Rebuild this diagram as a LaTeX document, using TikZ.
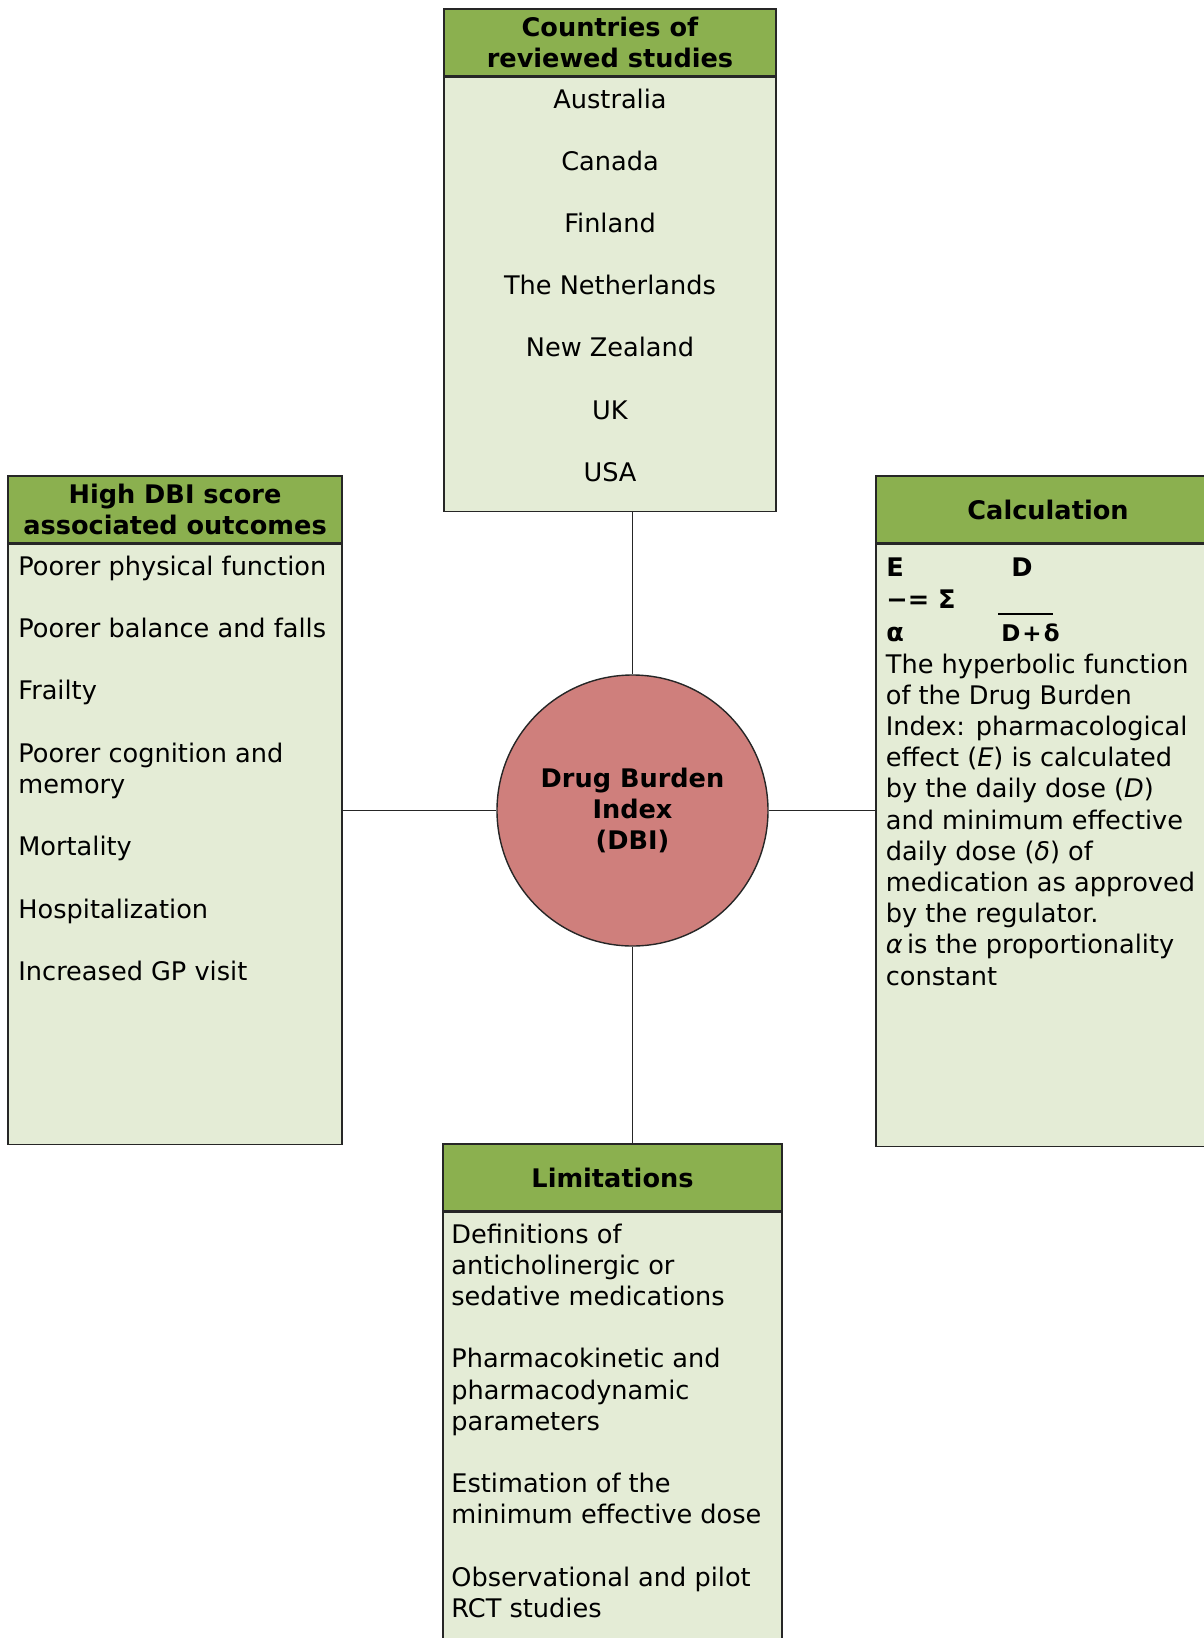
\documentclass[tikz,border=0pt]{standalone}
\usepackage{fontspec}
\setmainfont{DejaVu Sans}
\usetikzlibrary{positioning}
\newcommand{\dbifont}{\fontsize{12.8pt}{15.6pt}\selectfont}

\begin{document}
\begin{tikzpicture}[x=0.5pt,y=-0.5pt,
  head/.style={draw=black!85, line width=0.7pt, fill=hgreen, align=center, font=\dbifont\bfseries, inner sep=0pt, minimum height=33.5pt},
  body/.style={draw=black!85, line width=0.7pt, fill=bgreen, inner sep=0pt},
  item/.style={anchor=base west, align=left, inner sep=0pt, font=\dbifont},
  citem/.style={anchor=base, inner sep=0pt, font=\dbifont},
  fml/.style={anchor=base west, inner sep=0pt, font=\dbifont\bfseries},
  link/.style={draw=black!85, line width=0.7pt}]

% colours of the original figure
\definecolor{hgreen}{HTML}{8BB04F}
\definecolor{bgreen}{HTML}{E4ECD6}
\definecolor{dbired}{HTML}{CF7F7C}

\useasboundingbox (0,0) rectangle (1204,1638);
\clip (0,0) rectangle (1204,1638);

%% centre
\node [circle, draw=black!85, line width=0.7pt, fill=dbired, minimum size=135.5pt, inner sep=0pt, align=center, font=\dbifont\bfseries] (dbi) at (632.5,810.5) {Drug Burden\\Index\\(DBI)};

%% countries of reviewed studies
\node [head, minimum width=166pt] (countHead) at (610,42.5) {Countries of\\reviewed studies};
\node [body, minimum width=166pt, minimum height=217pt, below=0pt of countHead] (countBody) {};
\node [citem] (au) at (610,108) {Australia};
\node [citem] (ca) at (610,170.2) {Canada};
\node [citem] (fi) at (610,232.4) {Finland};
\node [citem] (nl) at (610,294.6) {The Netherlands};
\node [citem] (nz) at (610,356.8) {New Zealand};
\node [citem] (uk) at (610,419) {UK};
\node [citem] (us) at (610,481.2) {USA};

%% high DBI score outcomes (base = last line)
\node [head, minimum width=167pt] (outHead) at (175,509.5) {High DBI score\\associated outcomes};
\node [body, minimum width=167pt, minimum height=300pt, below=0pt of outHead] (outBody) {};
\node [item] (phys) at (18,575) {Poorer physical function};
\node [item] (falls) at (18,637.4) {Poorer balance and falls};
\node [item] (frail) at (18,699.8) {Frailty};
\node [item] (cogn) at (18,793.4) {Poorer cognition and\\memory};
\node [item] (mort) at (18,855.8) {Mortality};
\node [item] (hosp) at (18,918.2) {Hospitalization};
\node [item] (gp) at (18,980.6) {Increased GP visit};

%% calculation
\node [head, minimum width=172pt] (calcHead) at (1048,509.5) {Calculation};
\node [body, minimum width=172pt, minimum height=301pt, below=0pt of calcHead] (calcBody) {};
\node [fml] (fE) at (886,576) {E};
\node [fml] (fD) at (1011,576) {D};
\node [fml] (fSum) at (886,608) {−= Σ};
\node [anchor=west, inner sep=0pt] (fBar) at (998,614) {\rule{27.5pt}{0.6pt}};
\node [fml] (fAlpha) at (886,641) {α};
\node [fml, font=\fontsize{11.5pt}{14pt}\selectfont\bfseries] (fDen) at (1001,641) {D\kern1pt+\kern1ptδ};
\node [item] (hyp) at (885.5,985) {The hyperbolic function\\of the Drug Burden\\Index: pharmacological\\effect (\textit{E}) is calculated\\by the daily dose (\textit{D})\\and minimum effective\\daily dose (\textit{δ}) of\\medication as approved\\by the regulator.\\\textit{α}\,is the proportionality\\constant};

%% limitations
\node [head, minimum width=169.5pt] (limHead) at (612.5,1177.5) {Limitations};
\node [body, minimum width=169.5pt, minimum height=224.5pt, below=0pt of limHead] (limBody) {};
\node [item] (defs) at (451,1305.4) {Definitions of\\anticholinergic or\\sedative medications};
\node [item] (pkpd) at (451,1430.2) {Pharmacokinetic and\\pharmacodynamic\\parameters};
\node [item] (est) at (451,1523.8) {Estimation of the\\minimum effective dose};
\node [item] (obs) at (451,1617.4) {Observational and pilot\\RCT studies};

%% connectors
\draw [link] (countBody.south -| dbi.north) -- (dbi.north);
\draw [link] (outBody.east |- dbi.west) -- (dbi.west);
\draw [link] (dbi.east) -- (calcBody.west |- dbi.east);
\draw [link] (dbi.south) -- (limHead.north -| dbi.south);
\end{tikzpicture}
\end{document}
